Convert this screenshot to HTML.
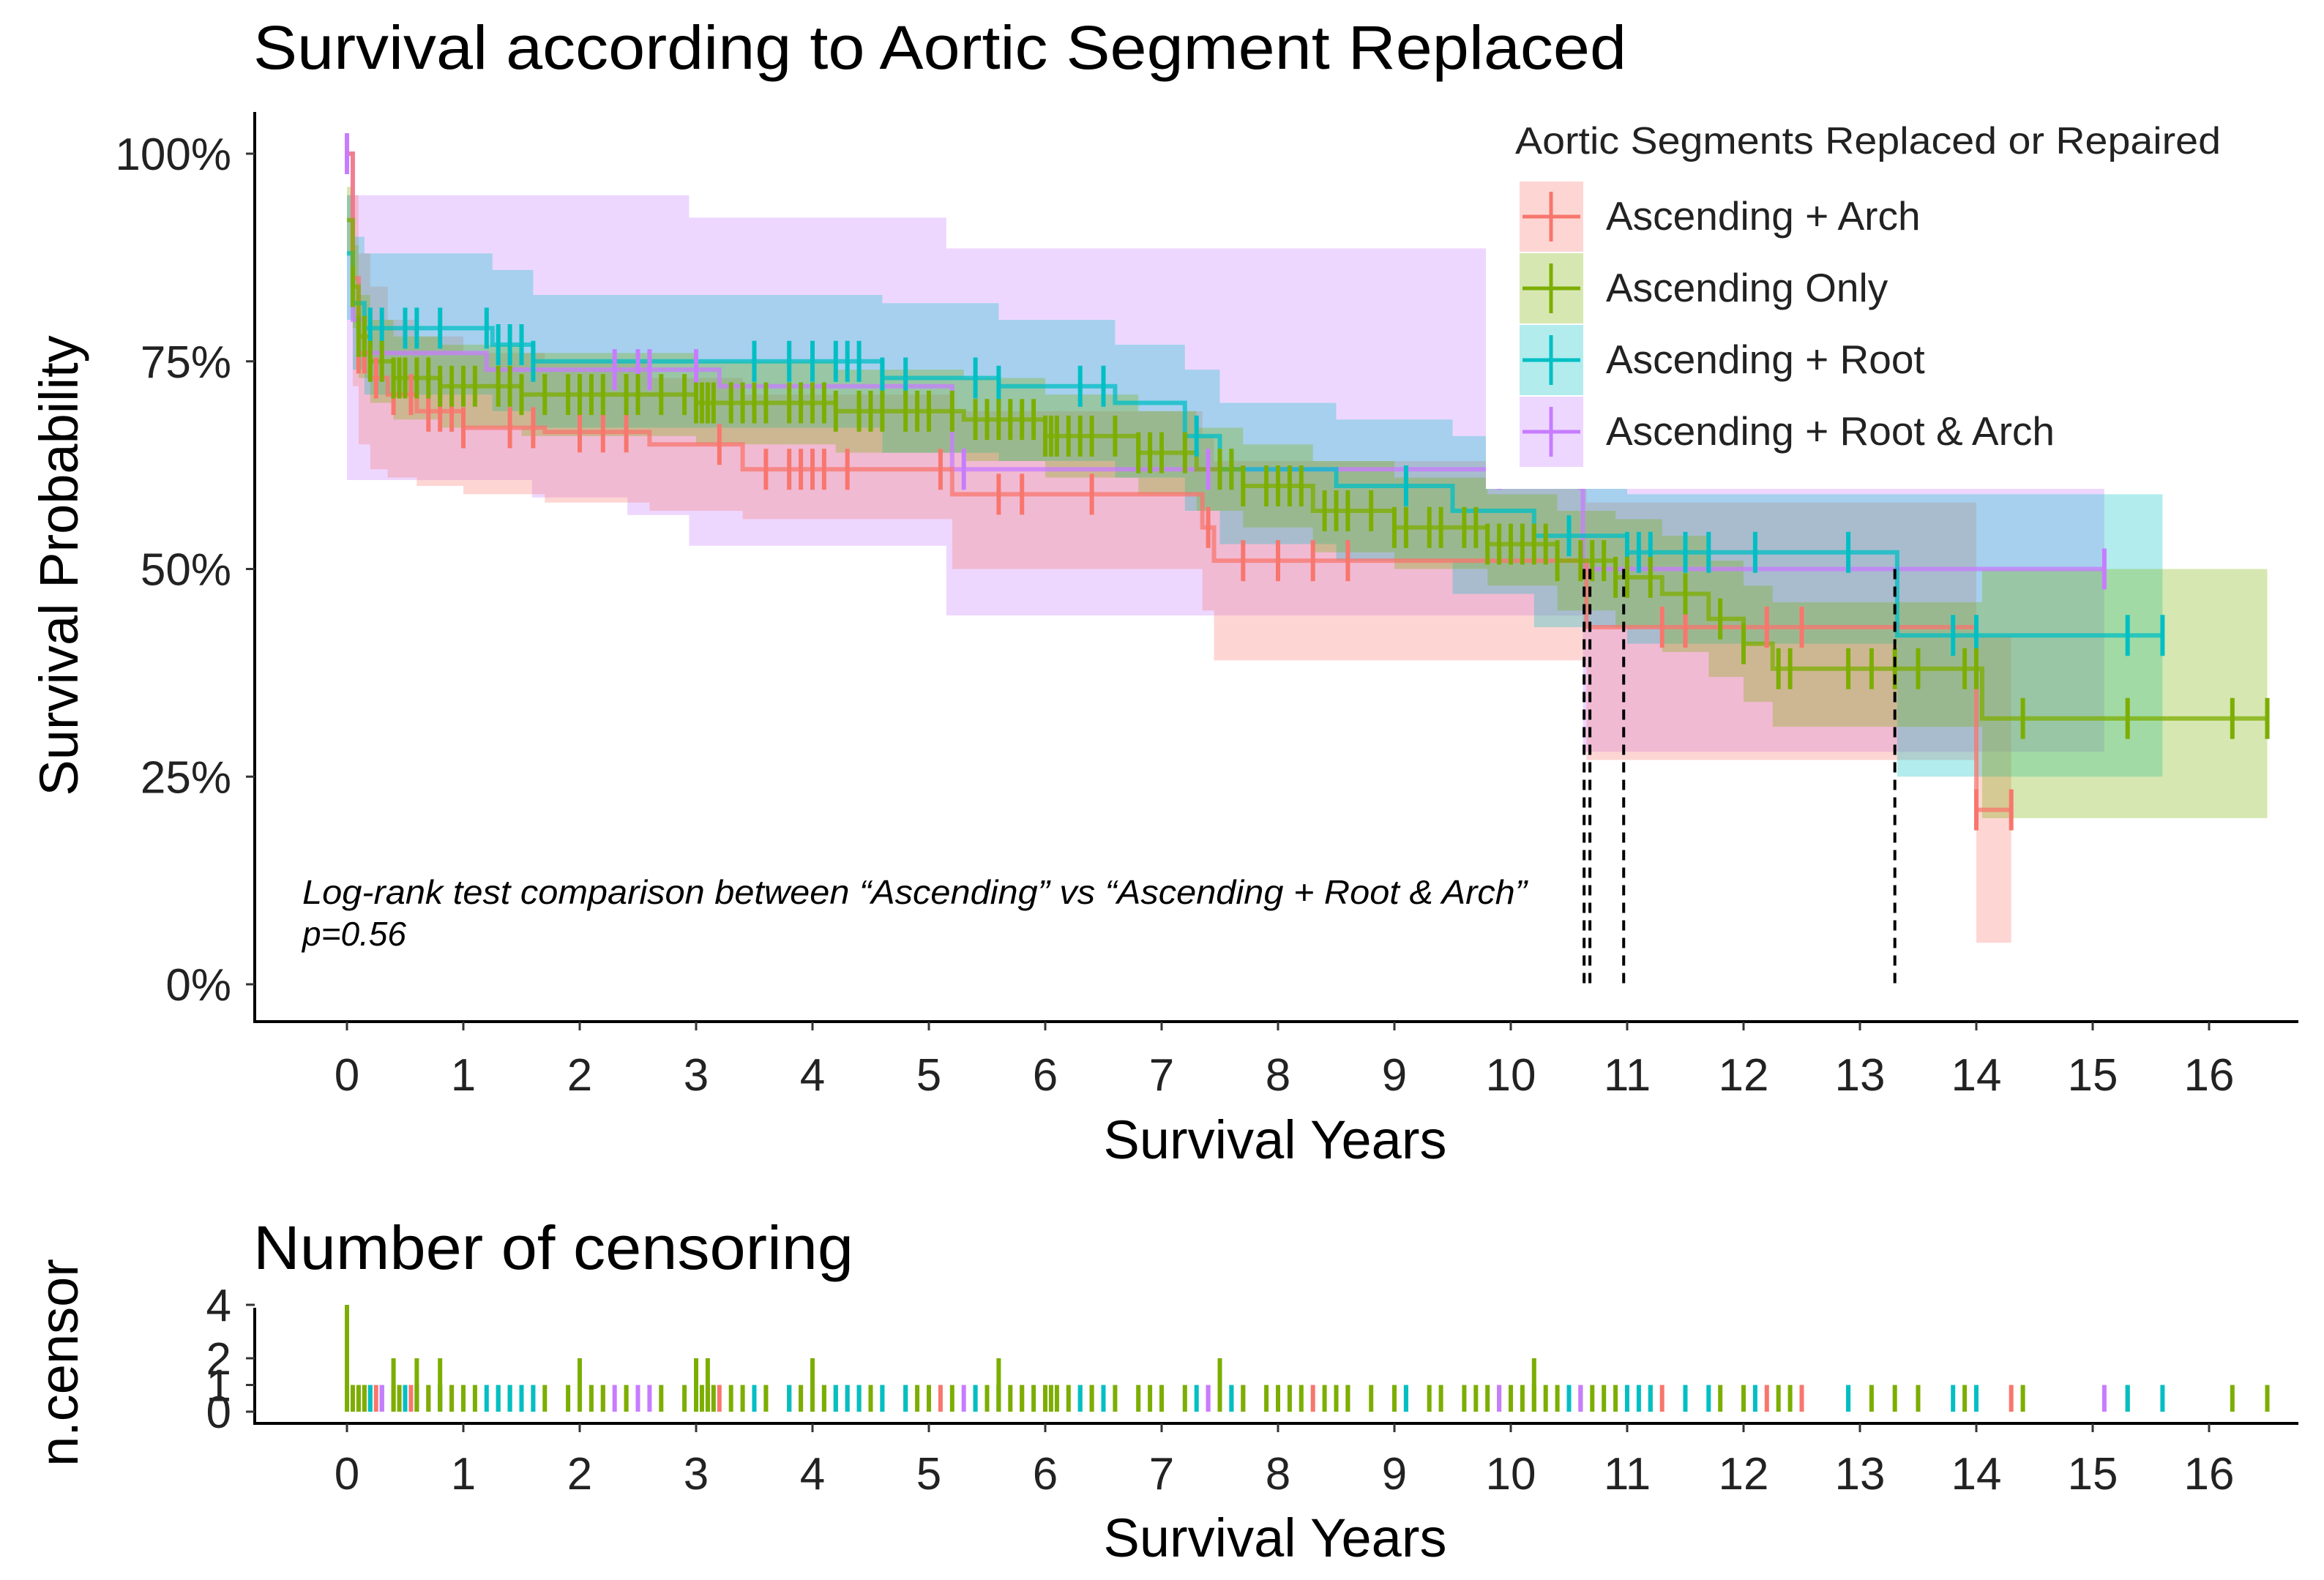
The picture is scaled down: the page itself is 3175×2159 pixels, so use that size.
<!DOCTYPE html>
<html><head><meta charset="utf-8"><style>
html,body{margin:0;padding:0;background:#fff;}
svg{display:block;font-family:"Liberation Sans",Arial,sans-serif;}
</style></head><body>
<svg id="chart" width="3175" height="2159" viewBox="0 0 3175 2159" xmlns="http://www.w3.org/2000/svg">
<text x="346" y="94" font-size="84" textLength="1876" lengthAdjust="spacingAndGlyphs" fill="#000">Survival according to Aortic Segment Replaced</text>
<g id="bands"></g>
<g id="lines"></g>
<g id="ticks"></g>
<g id="medians"></g>
<g id="legend">
<rect x="2030" y="153" width="1110" height="515" fill="#fff"/>
<text x="2070" y="210" font-size="52" textLength="964" lengthAdjust="spacingAndGlyphs" fill="#222">Aortic Segments Replaced or Repaired</text>
</g>
<g id="axes"></g>
<text x="413" y="1235" font-size="46" font-style="italic" textLength="1673" lengthAdjust="spacingAndGlyphs" fill="#000">Log-rank test comparison between “Ascending” vs “Ascending + Root &amp; Arch”</text>
<text x="413" y="1292" font-size="46" font-style="italic" fill="#000">p=0.56</text>
<text x="1742" y="1583" font-size="74" text-anchor="middle" fill="#000">Survival Years</text>
<text transform="translate(106,773) rotate(-90)" font-size="74" text-anchor="middle" fill="#000">Survival Probability</text>
<text x="346" y="1734" font-size="84" textLength="820" lengthAdjust="spacingAndGlyphs" fill="#000">Number of censoring</text>
<g id="cbars"></g>
<g id="caxes"></g>
<text x="1742" y="2127" font-size="74" text-anchor="middle" fill="#000">Survival Years</text>
<text transform="translate(106,1862) rotate(-90)" font-size="74" text-anchor="middle" fill="#000">n.censor</text>
</svg>
<script>
const xTicks = [0,1,2,3,4,5,6,7,8,9,10,11,12,13,14,15,16];
const yTickVals = [0,0.25,0.5,0.75,1];
const yTickLabels = ["0%","25%","50%","75%","100%"];
const cTickVals = [0,1,2,4];
const cTickLabels = ["0","1","2","4"];
const groupNames = ["Ascending + Arch","Ascending Only","Ascending + Root","Ascending + Root & Arch"];
const groupColors = ["#F8766D","#7CAE00","#00BFC4","#C77CFF"];

const redT = [0,0.05,0.1,0.2,0.35,0.6,1.0,1.7,2.6,3.4,5.2,7.35,7.45,10.65,14.0];
const redS = [1.0,0.85,0.76,0.73,0.71,0.69,0.67,0.665,0.65,0.62,0.59,0.55,0.51,0.43,0.21];
const redUp = [1.0,0.95,0.88,0.84,0.80,0.78,0.76,0.75,0.73,0.71,0.69,0.66,0.63,0.58,0.42];
const redLo = [1.0,0.72,0.65,0.62,0.61,0.60,0.59,0.58,0.57,0.56,0.50,0.45,0.39,0.27,0.05];
const redEnd = 14.3;

const greenT = [0,0.05,0.1,0.2,0.4,0.8,1.5,3.0,4.2,5.3,6.0,6.8,7.3,7.7,8.3,9.0,9.8,10.4,10.9,11.3,11.7,12.0,12.25,14.05];
const greenS = [0.92,0.84,0.78,0.75,0.73,0.72,0.71,0.70,0.69,0.68,0.66,0.64,0.62,0.60,0.57,0.55,0.53,0.51,0.49,0.47,0.44,0.41,0.38,0.32];
const greenUp = [0.96,0.89,0.83,0.80,0.78,0.77,0.76,0.75,0.74,0.73,0.71,0.69,0.67,0.65,0.63,0.61,0.59,0.57,0.56,0.54,0.51,0.48,0.46,0.50];
const greenLo = [0.88,0.79,0.73,0.70,0.68,0.67,0.66,0.65,0.64,0.63,0.61,0.59,0.57,0.55,0.52,0.50,0.48,0.45,0.43,0.40,0.37,0.34,0.31,0.20];
const greenEnd = 16.5;

const tealT = [0,0.05,0.15,1.25,1.6,4.6,5.6,6.6,7.2,7.5,8.5,9.5,10.2,11.0,13.32];
const tealS = [0.88,0.82,0.79,0.77,0.75,0.73,0.72,0.70,0.66,0.62,0.60,0.57,0.54,0.52,0.42];
const tealUp = [0.95,0.90,0.88,0.86,0.83,0.82,0.80,0.77,0.74,0.70,0.68,0.66,0.60,0.59,0.59];
const tealLo = [0.80,0.74,0.71,0.69,0.67,0.64,0.63,0.61,0.57,0.53,0.51,0.47,0.43,0.41,0.25];
const tealEnd = 15.6;

const purpleT = [0,0.05,0.15,1.2,3.2,5.2,10.62];
const purpleS = [1.0,0.80,0.76,0.74,0.72,0.62,0.50];
const purpleBandT = [0,1.59,2.41,2.94,5.15,9.76,10.62];
const purpleUp = [0.95,0.95,0.95,0.923,0.886,0.886,0.67];
const purpleLo = [0.607,0.586,0.565,0.528,0.444,0.444,0.28];
const purpleEnd = 15.1;

const redCens = [0.1,0.15,0.25,0.4,0.55,0.7,0.8,0.9,1.0,1.4,1.6,2.0,2.2,2.4,3.2,3.6,3.8,3.9,4.0,4.1,4.3,5.1,5.6,5.8,6.4,7.4,7.7,8.0,8.3,8.6,10.6,11.3,11.5,12.2,12.5,14.0,14.3];
const greenCens = [0.05,0.1,0.15,0.2,0.3,0.4,0.45,0.5,0.6,0.7,0.8,0.9,1.0,1.1,1.3,1.4,1.5,1.7,1.9,2.0,2.1,2.2,2.4,2.5,2.7,2.9,3.0,3.05,3.1,3.15,3.3,3.4,3.5,3.6,3.8,3.9,4.0,4.1,4.2,4.4,4.5,4.6,4.8,4.9,5.0,5.2,5.4,5.5,5.6,5.7,5.8,5.9,6.0,6.05,6.1,6.2,6.3,6.4,6.6,6.8,6.9,7.0,7.2,7.5,7.6,7.7,7.9,8.0,8.1,8.2,8.4,8.5,8.6,8.8,9.0,9.1,9.3,9.4,9.6,9.7,9.8,9.9,10.0,10.1,10.2,10.3,10.4,10.6,10.7,10.8,10.9,11.0,11.2,11.5,11.8,12.0,12.3,12.4,12.9,13.1,13.3,13.5,13.9,14.0,14.4,15.3,16.2,16.5];
const tealCens = [0.2,0.3,0.5,0.6,0.8,1.2,1.3,1.4,1.5,1.6,3.5,3.8,4.0,4.2,4.3,4.4,4.6,4.8,5.4,5.6,6.3,6.5,7.3,7.6,9.1,10.5,11.0,11.1,11.2,11.5,11.7,12.1,12.9,13.8,14.0,15.3,15.6];
const purpleCens = [0.0,0.3,2.3,2.5,2.6,3.0,5.3,7.4,9.9,10.6,15.1];

const multiT = [0,0.4,0.6,0.8,2.0,3.0,3.1,4.0,5.6,7.5,10.2];
const multiN = [4,2,2,2,2,2,2,2,2,2,2];

const medianT = [10.63,10.68,10.97,13.3];
const medianS = 0.5;

const NS = "http://www.w3.org/2000/svg";
const X = t => 474 + t * 159.0;
const Y = p => 1345 - p * 1135;
const CY = n => 1929 - n * 36.5;
function mk(tag, attrs, parent){const e=document.createElementNS(NS,tag);for(const k in attrs)e.setAttribute(k,attrs[k]);parent.appendChild(e);return e;}
function stepPath(T,S,end){let d="M"+X(T[0])+" "+Y(S[0]);for(let i=1;i<T.length;i++){d+=" H"+X(T[i])+" V"+Y(S[i]);}d+=" H"+X(end);return d;}
function bandPath(T,U,L,end){let d="M"+X(T[0])+" "+Y(U[0]);for(let i=1;i<T.length;i++){d+=" H"+X(T[i])+" V"+Y(U[i]);}d+=" H"+X(end)+" V"+Y(L[L.length-1]);for(let i=T.length-1;i>=1;i--){d+=" H"+X(T[i])+" V"+Y(L[i-1]);}d+=" H"+X(T[0])+" Z";return d;}
function survAt(T,S,t){let v=S[0];for(let i=0;i<T.length;i++){if(T[i]<=t)v=S[i];}return v;}

const series = [
 {T:redT,S:redS,BT:redT,U:redUp,L:redLo,end:redEnd,c:redCens},
 {T:greenT,S:greenS,BT:greenT,U:greenUp,L:greenLo,end:greenEnd,c:greenCens},
 {T:tealT,S:tealS,BT:tealT,U:tealUp,L:tealLo,end:tealEnd,c:tealCens},
 {T:purpleT,S:purpleS,BT:purpleBandT,U:purpleUp,L:purpleLo,end:purpleEnd,c:purpleCens}
];
const gB=document.getElementById('bands'),gL=document.getElementById('lines'),gT=document.getElementById('ticks');
[3,0,2,1].forEach(i=>{
 const s=series[i];
 const b=mk('path',{d:bandPath(s.BT,s.U,s.L,s.end),fill:groupColors[i],'fill-opacity':0.3,stroke:'none'},gB);
 
 
});
[3,0,2,1].forEach(i=>{
 const s=series[i];
 const l=mk('path',{d:stepPath(s.T,s.S,s.end),fill:'none',stroke:groupColors[i],'stroke-width':6,'stroke-opacity':0.75},gL);
 
 
 s.c.forEach(t=>{
  const y=Y(survAt(s.T,s.S,t));
  const m=mk('line',{x1:X(t),x2:X(t),y1:y-28,y2:y+28,stroke:groupColors[i],'stroke-width':6},gT);
  
  
 });
});
const gM=document.getElementById('medians');
medianT.forEach(t=>{
 const m=mk('line',{x1:X(t),x2:X(t),y1:Y(medianS),y2:Y(0),stroke:'#000','stroke-width':4,'stroke-dasharray':'14 10'},gM);
 
 
});
const gLeg=document.getElementById('legend');
groupNames.forEach((n,i)=>{
 const y0=248+i*98;
 const r=mk('rect',{x:2076,y:y0,width:87,height:96,fill:groupColors[i],'fill-opacity':0.3},gLeg);
 
 
 mk('line',{x1:2080,x2:2159,y1:y0+48,y2:y0+48,stroke:groupColors[i],'stroke-width':5},gLeg);
 mk('line',{x1:2119,x2:2119,y1:y0+14,y2:y0+82,stroke:groupColors[i],'stroke-width':5},gLeg);
 const t=mk('text',{x:2194,y:y0+66,'font-size':55,fill:'#222'},gLeg);
 t.textContent=n;
 
 
});
const gA=document.getElementById('axes');
mk('line',{x1:348,x2:348,y1:153,y2:1398,stroke:'#000','stroke-width':4},gA);
mk('line',{x1:346,x2:3140,y1:1396,y2:1396,stroke:'#000','stroke-width':4},gA);
yTickVals.forEach((v,i)=>{
 mk('line',{x1:336,x2:348,y1:Y(v),y2:Y(v),stroke:'#333','stroke-width':3},gA);
 const t=mk('text',{x:316,y:Y(v)+22,'font-size':62,'text-anchor':'end',fill:'#222'},gA);
 t.textContent=yTickLabels[i];
 
 
});
xTicks.forEach(v=>{
 mk('line',{x1:X(v),x2:X(v),y1:1396,y2:1408,stroke:'#333','stroke-width':3},gA);
 const t=mk('text',{x:X(v),y:1490,'font-size':62,'text-anchor':'middle',fill:'#222'},gA);
 t.textContent=v;
 
 
});
const gC=document.getElementById('cbars');
series.forEach((s,i)=>{
 s.c.forEach(t=>{
  const r=mk('rect',{x:X(t)-3,y:CY(1),width:6,height:CY(0)-CY(1),fill:groupColors[i]},gC);
  
  
 });
});
multiT.forEach((t,j)=>{
 const r=mk('rect',{x:X(t)-3,y:CY(multiN[j]),width:6,height:CY(0)-CY(multiN[j]),fill:groupColors[1]},gC);
 
 
});
const gCA=document.getElementById('caxes');
mk('line',{x1:348,x2:348,y1:1787,y2:1947,stroke:'#000','stroke-width':4},gCA);
mk('line',{x1:346,x2:3140,y1:1945,y2:1945,stroke:'#000','stroke-width':4},gCA);
cTickVals.forEach((v,i)=>{
 mk('line',{x1:336,x2:348,y1:CY(v),y2:CY(v),stroke:'#333','stroke-width':3},gCA);
 const t=mk('text',{x:316,y:CY(v)+22,'font-size':62,'text-anchor':'end',fill:'#222'},gCA);
 t.textContent=cTickLabels[i];
 
 
});
xTicks.forEach(v=>{
 mk('line',{x1:X(v),x2:X(v),y1:1945,y2:1957,stroke:'#333','stroke-width':3},gCA);
 const t=mk('text',{x:X(v),y:2035,'font-size':62,'text-anchor':'middle',fill:'#222'},gCA);
 t.textContent=v;
 
 
});
</script>
</body></html>
